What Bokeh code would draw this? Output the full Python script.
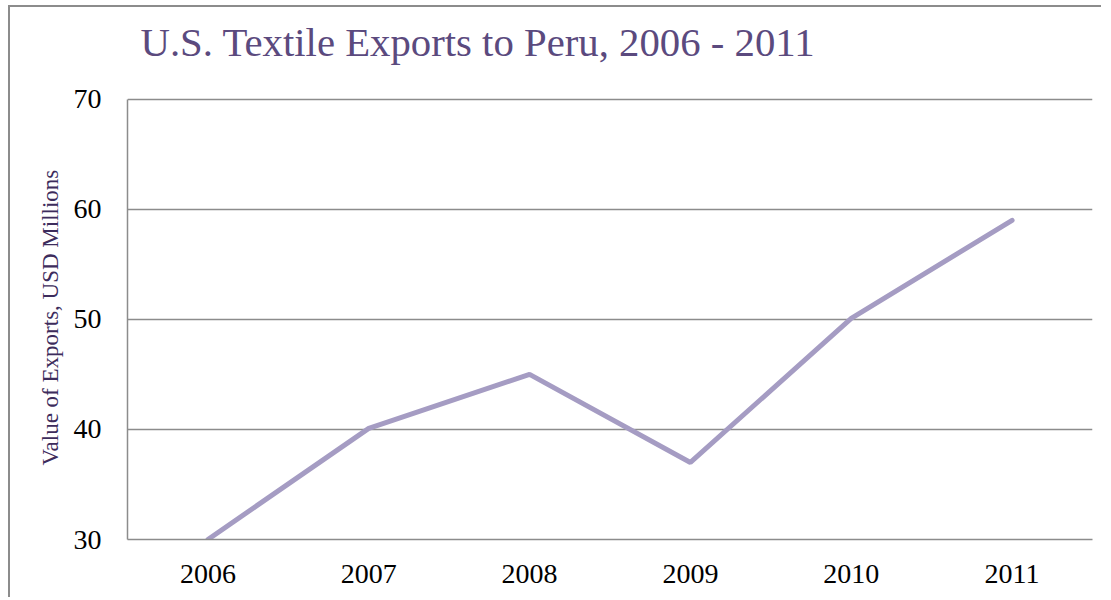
from bokeh.plotting import figure
from bokeh.models import Range1d, FixedTicker, Title
from bokeh.embed import file_html
from bokeh.resources import INLINE

years = ["2006", "2007", "2008", "2009", "2010", "2011"]
exports = [30, 40.1, 45, 37, 50.1, 59]
y_ticks = [30, 40, 50, 60, 70]
title_text = "U.S. Textile Exports to Peru, 2006 - 2011"
y_label = "Value of Exports, USD Millions"

GRAY = "#8c8c8c"
SERIF = "Liberation Serif"

# frame extends a little above 70 so the title can sit where the reference has it;
# the axis line itself is bounded to the tick span
p = figure(width=1093, height=592, x_range=years, y_range=Range1d(30, 72.25),
           output_backend="svg", toolbar_location=None,
           min_border_left=117, min_border_right=11, min_border_bottom=60,
           min_border_top=0)
p.styles = {"border-left": "2px solid #8c8c8c", "border-top": "2px solid #8c8c8c",
            "margin-left": "8px", "margin-top": "5px"}

p.title.text = title_text
p.title.align = "left"
p.title.offset = 13
p.title.vertical_align = "bottom"
p.title.text_font = SERIF
p.title.text_font_style = "normal"
p.title.text_font_size = "40.75px"
p.title.text_color = "#5b4a7e"
p.title.standoff = 20

p.line(x=years, y=exports, line_color="#a59cc3", line_width=5, line_cap="round")

p.outline_line_color = None
p.xgrid.grid_line_color = None
p.ygrid.grid_line_color = GRAY
p.ygrid.grid_line_width = 1.5
p.yaxis.ticker = FixedTicker(ticks=y_ticks)
p.yaxis.bounds = (y_ticks[0], y_ticks[-1])

for ax in (p.xaxis[0], p.yaxis[0]):
    ax.axis_line_color = GRAY
    ax.axis_line_width = 1.5
    ax.major_tick_line_color = None
    ax.minor_tick_line_color = None
    ax.major_label_text_font = SERIF
    ax.major_label_text_font_size = "28px"
    ax.major_label_text_color = "black"

p.yaxis.major_label_standoff = 20
p.xaxis.major_label_standoff = 19

# y-axis title placed as a side title so it can be centred on the 30-70 span
ytitle = Title(text=y_label, align="left", offset=74, vertical_align="bottom",
               standoff=16, text_font=SERIF, text_font_style="normal",
               text_font_size="23px", text_color="#3d2c5c")
p.add_layout(ytitle, "left")

open("out.html", "w").write(file_html(p, INLINE))
